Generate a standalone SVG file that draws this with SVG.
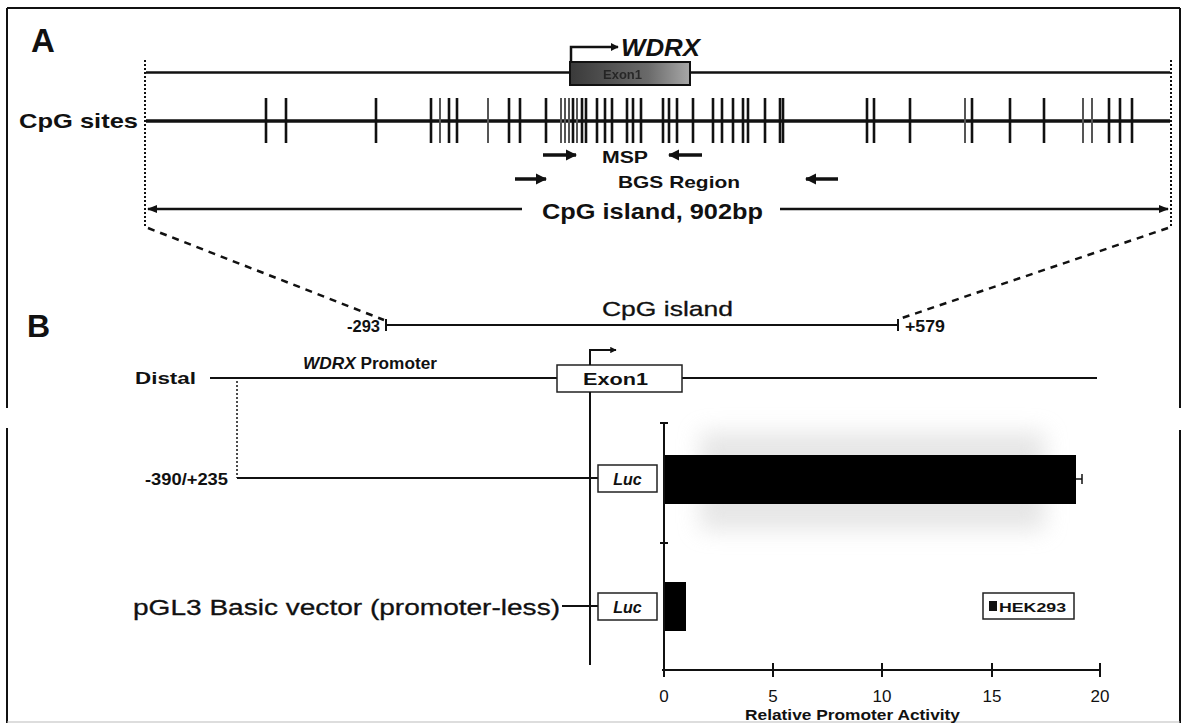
<svg xmlns="http://www.w3.org/2000/svg" width="1184" height="723" viewBox="0 0 1184 723">
<defs>
<style>
.t{font-family:"Liberation Sans",Arial,sans-serif;fill:#111;}
.b{font-weight:bold;}
.i{font-style:italic;}
.m{stroke:#111;stroke-width:0.3;}
.ln{stroke:#111;fill:none;}
.tk{stroke:#111;stroke-width:2.6;}
.tkg{stroke:#555;stroke-width:2;}
.box{fill:#fff;stroke:#222;stroke-width:1.5;}
</style>
<marker id="ah" viewBox="0 0 10 10" refX="9" refY="5" markerWidth="4" markerHeight="4" orient="auto-start-reverse" markerUnits="strokeWidth">
<path d="M0,1 L10,5 L0,9 z" fill="#111"/>
</marker>
<marker id="ahs" viewBox="0 0 10 10" refX="9" refY="5" markerWidth="3.2" markerHeight="3.2" orient="auto" markerUnits="strokeWidth">
<path d="M0,0 L10,5 L0,10 z" fill="#111"/>
</marker>
<linearGradient id="exg" x1="0" x2="1" y1="0" y2="0">
<stop offset="0" stop-color="#3a3a3a"/>
<stop offset="0.65" stop-color="#6a6a6a"/>
<stop offset="1" stop-color="#a8a8a8"/>
</linearGradient>
<filter id="blur" x="-20%" y="-50%" width="140%" height="200%">
<feGaussianBlur stdDeviation="11"/>
</filter>
</defs>
<rect width="1184" height="723" fill="#fff"/>

<g id="frame" class="ln" stroke-width="2">
<line x1="7" y1="8" x2="1180" y2="8"/>
<line x1="7" y1="8" x2="7" y2="408"/>
<line x1="7" y1="428" x2="7" y2="723"/>
<line x1="1180" y1="8" x2="1180" y2="408"/>
<line x1="1180" y1="430" x2="1180" y2="723"/>
<line x1="7" y1="722" x2="1180" y2="722" stroke="#bbb" stroke-width="1"/>
</g>

<g id="panel-labels">
<text class="t b" x="31" y="52" font-size="33">A</text>
<text class="t b" x="27" y="337" font-size="32">B</text>
</g>

<g id="gene-A">
<line class="ln" x1="146" y1="72.5" x2="570" y2="72.5" stroke-width="2.5"/>
<line class="ln" x1="690" y1="72.5" x2="1170" y2="72.5" stroke-width="2.5"/>
<rect x="570" y="62" width="120" height="23" fill="url(#exg)" stroke="#111" stroke-width="2"/>
<text class="t b" x="603" y="79" font-size="13" style="fill:#1a1a1a;opacity:0.8">Exon1</text>
<text class="t b i" x="621" y="56" font-size="24" textLength="79" lengthAdjust="spacingAndGlyphs">WDRX</text>
</g>

<g id="cpg-sites">
<text class="t b" x="19" y="128" font-size="21" textLength="119" lengthAdjust="spacingAndGlyphs">CpG sites</text>
<line class="ln" x1="146" y1="121" x2="1170" y2="121" stroke-width="3.5"/>
<g>
<line class="tk" x1="266" y1="98" x2="266" y2="143"/>
<line class="tk" x1="286" y1="98" x2="286" y2="143"/>
<line class="tk" x1="376" y1="98" x2="376" y2="143"/>
<line class="tk" x1="431" y1="98" x2="431" y2="143"/>
<line class="tkg" x1="440" y1="98" x2="440" y2="143"/>
<line class="tk" x1="449" y1="98" x2="449" y2="143"/>
<line class="tk" x1="457" y1="98" x2="457" y2="143"/>
<line class="tkg" x1="488" y1="98" x2="488" y2="143"/>
<line class="tk" x1="509" y1="98" x2="509" y2="143"/>
<line class="tk" x1="520" y1="98" x2="520" y2="143" stroke-width="7"/>
<line class="tk" x1="546" y1="98" x2="546" y2="143" stroke-width="12"/>
<line class="tkg" x1="561" y1="98" x2="561" y2="143"/>
<line class="tkg" x1="565" y1="98" x2="565" y2="143"/>
<line class="tkg" x1="569" y1="98" x2="569" y2="143"/>
<line class="tk" x1="573" y1="98" x2="573" y2="143"/>
<line class="tkg" x1="577" y1="98" x2="577" y2="143"/>
<line class="tk" x1="582" y1="98" x2="582" y2="143"/>
<line class="tk" x1="586" y1="98" x2="586" y2="143"/>
<line class="tk" x1="597" y1="98" x2="597" y2="143"/>
<line class="tk" x1="605" y1="98" x2="605" y2="143"/>
<line class="tk" x1="612" y1="98" x2="612" y2="143"/>
<line class="tk" x1="627" y1="98" x2="627" y2="143"/>
<line class="tk" x1="633" y1="98" x2="633" y2="143"/>
<line class="tk" x1="641" y1="98" x2="641" y2="143"/>
<line class="tk" x1="663" y1="98" x2="663" y2="143"/>
<line class="tk" x1="669" y1="98" x2="669" y2="143"/>
<line class="tk" x1="677" y1="98" x2="677" y2="143"/>
<line class="tk" x1="693" y1="98" x2="693" y2="143"/>
<line class="tk" x1="713" y1="98" x2="713" y2="143"/>
<line class="tk" x1="722" y1="98" x2="722" y2="143"/>
<line class="tk" x1="733" y1="98" x2="733" y2="143"/>
<line class="tk" x1="743" y1="98" x2="743" y2="143"/>
<line class="tk" x1="748" y1="98" x2="748" y2="143"/>
<line class="tk" x1="765" y1="98" x2="765" y2="143"/>
<line class="tk" x1="780" y1="98" x2="780" y2="143"/>
<line class="tk" x1="783" y1="98" x2="783" y2="143"/>
<line class="tk" x1="867" y1="98" x2="867" y2="143"/>
<line class="tk" x1="874" y1="98" x2="874" y2="143"/>
<line class="tk" x1="910" y1="98" x2="910" y2="143"/>
<line class="tkg" x1="965" y1="98" x2="965" y2="143"/>
<line class="tk" x1="972" y1="98" x2="972" y2="143"/>
<line class="tk" x1="1010" y1="98" x2="1010" y2="143"/>
<line class="tk" x1="1044" y1="98" x2="1044" y2="143" stroke-width="5"/>
<line class="tkg" x1="1083" y1="98" x2="1083" y2="143"/>
<line class="tkg" x1="1092" y1="98" x2="1092" y2="143"/>
<line class="tk" x1="1109" y1="98" x2="1109" y2="143"/>
<line class="tk" x1="1120" y1="98" x2="1120" y2="143"/>
<line class="tk" x1="1132" y1="98" x2="1132" y2="143"/>
</g>
</g>

<g id="primers">
<text class="t b" x="602" y="163" font-size="16" textLength="46" lengthAdjust="spacingAndGlyphs">MSP</text>
<text class="t b" x="618" y="188" font-size="17" textLength="122" lengthAdjust="spacingAndGlyphs">BGS Region</text>
</g>

<g id="cpg-island-A">
<text class="t b" x="542" y="219" font-size="22" textLength="221" lengthAdjust="spacingAndGlyphs">CpG island, 902bp</text>
</g>

<g id="cpg-island-B">
<text class="t b" x="347" y="332" font-size="16" textLength="33" lengthAdjust="spacingAndGlyphs">-293</text>
<text class="t m" x="602" y="316" font-size="21" textLength="131" lengthAdjust="spacingAndGlyphs">CpG island</text>
<text class="t b" x="905" y="332" font-size="16" textLength="40" lengthAdjust="spacingAndGlyphs">+579</text>
<line class="ln" x1="385" y1="325" x2="898" y2="325" stroke-width="2.2"/>
<line class="ln" x1="386" y1="319" x2="386" y2="331" stroke-width="2"/>
<line class="ln" x1="898" y1="319" x2="898" y2="331" stroke-width="2"/>
</g>

<g id="promoter-B">
<text class="t b" x="135" y="384" font-size="16" textLength="61" lengthAdjust="spacingAndGlyphs">Distal</text>
<text class="t b" x="303" y="369" font-size="16" textLength="134" lengthAdjust="spacingAndGlyphs"><tspan class="i">WDRX</tspan> Promoter</text>
<line class="ln" x1="210" y1="378" x2="557" y2="378" stroke-width="2"/>
<line class="ln" x1="682" y1="378" x2="1097" y2="378" stroke-width="2"/>
<rect class="box" x="557" y="365" width="125" height="27"/>
<text class="t b" x="583" y="385" font-size="16" textLength="65" lengthAdjust="spacingAndGlyphs">Exon1</text>
</g>

<g id="construct-1">
<text class="t b" x="145" y="485" font-size="16" textLength="83" lengthAdjust="spacingAndGlyphs">-390/+235</text>
<line class="ln" x1="237" y1="478" x2="598" y2="478" stroke-width="2"/>
<rect class="box" x="598" y="465" width="59" height="27"/>
<text class="t b i" x="627.5" y="485" font-size="16" text-anchor="middle">Luc</text>
</g>

<g id="construct-2">
<text class="t m" x="133" y="615" font-size="22" textLength="427" lengthAdjust="spacingAndGlyphs">pGL3 Basic vector (promoter-less)</text>
<line class="ln" x1="562" y1="606" x2="598" y2="606" stroke-width="1.8"/>
<rect class="box" x="598" y="593" width="59" height="27"/>
<text class="t b i" x="627.5" y="613" font-size="16" text-anchor="middle">Luc</text>
</g>

<g id="chart">
<rect x="700" y="432" width="345" height="98" fill="#dcdcdc" filter="url(#blur)" opacity="0.7"/>
<rect x="664" y="455" width="412" height="49" fill="#000"/>
<line class="ln" x1="1076" y1="479" x2="1082" y2="479" stroke-width="1.5"/>
<line class="ln" x1="1082" y1="474" x2="1082" y2="484" stroke-width="1.5"/>
<rect x="664" y="582" width="22" height="49" fill="#000"/>
<line class="ln" x1="664" y1="423" x2="664" y2="671" stroke-width="2"/>
<line class="ln" x1="660" y1="423" x2="668" y2="423" stroke-width="2"/>
<line class="ln" x1="660" y1="543" x2="668" y2="543" stroke-width="2"/>
<line class="ln" x1="662" y1="670" x2="1101" y2="670" stroke-width="2"/>
<g class="ln" stroke-width="2">
<line x1="664" y1="663" x2="664" y2="677"/>
<line x1="773" y1="663" x2="773" y2="677"/>
<line x1="882" y1="663" x2="882" y2="677"/>
<line x1="992" y1="663" x2="992" y2="677"/>
<line x1="1100" y1="663" x2="1100" y2="677"/>
</g>
<g class="t" font-size="17" text-anchor="middle">
<text x="664" y="702">0</text>
<text x="773" y="702">5</text>
<text x="882" y="702">10</text>
<text x="992" y="702">15</text>
<text x="1100" y="702">20</text>
</g>
<text class="t b" x="745" y="720" font-size="15.5" textLength="215" lengthAdjust="spacingAndGlyphs">Relative Promoter Activity</text>
</g>

<g id="legend">
<rect class="box" x="983" y="593" width="91" height="26"/>
<rect x="989" y="601" width="8" height="10" fill="#111"/>
<text class="t b" x="999" y="612" font-size="13" textLength="67" lengthAdjust="spacingAndGlyphs">HEK293</text>
</g>

<g id="connectors">
<polyline class="ln" points="571,62 571,47 618,47" stroke-width="2.5" marker-end="url(#ahs)"/>
<polyline class="ln" points="590,365 590,350 616,350" stroke-width="2" marker-end="url(#ahs)"/>
<line class="ln" x1="543" y1="155" x2="576" y2="155" stroke-width="3.5" marker-end="url(#ahs)"/>
<line class="ln" x1="702" y1="155" x2="669" y2="155" stroke-width="3.5" marker-end="url(#ahs)"/>
<line class="ln" x1="515" y1="179" x2="546" y2="179" stroke-width="3.5" marker-end="url(#ahs)"/>
<line class="ln" x1="838" y1="179" x2="806" y2="179" stroke-width="3.5" marker-end="url(#ahs)"/>
<line class="ln" x1="522" y1="209" x2="148" y2="209" stroke-width="2.5" marker-end="url(#ah)"/>
<line class="ln" x1="780" y1="209" x2="1168" y2="209" stroke-width="2.5" marker-end="url(#ah)"/>
<line class="ln" x1="145" y1="60" x2="145" y2="226" stroke-width="2" stroke-dasharray="2,2"/>
<line class="ln" x1="1171" y1="60" x2="1171" y2="226" stroke-width="2" stroke-dasharray="2,2"/>
<line class="ln" x1="148" y1="228" x2="384" y2="320" stroke-width="2.5" stroke-dasharray="7,6"/>
<line class="ln" x1="1168" y1="228" x2="902" y2="318" stroke-width="2.5" stroke-dasharray="7,6"/>
<line class="ln" x1="237" y1="381" x2="237" y2="478" stroke-width="1.5" stroke-dasharray="2,2" stroke="#444"/>
<line class="ln" x1="590" y1="392" x2="590" y2="665" stroke-width="2"/>
</g>
</svg>
